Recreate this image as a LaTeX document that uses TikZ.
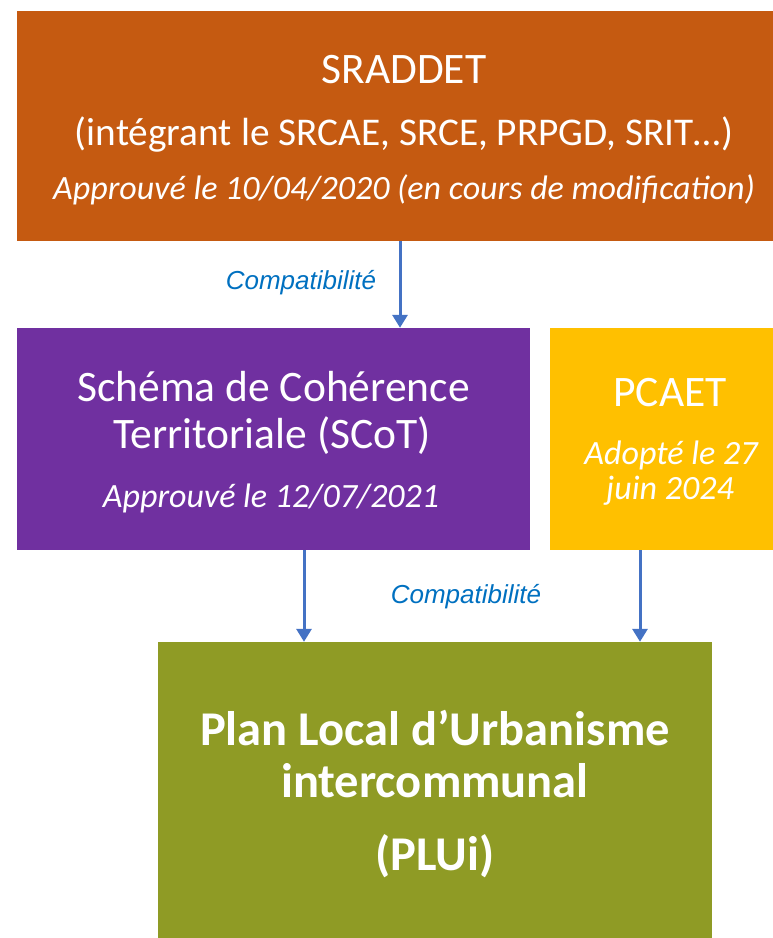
\documentclass[tikz,border=0pt]{standalone}
\usepackage{fontspec}
\setmainfont{Carlito}
\newfontfamily\labelfont{Liberation Sans}
\usetikzlibrary{arrows.meta}
\definecolor{sraddetorange}{HTML}{C55A11}
\definecolor{scotpurple}{HTML}{7030A0}
\definecolor{pcaetyellow}{HTML}{FFC000}
\definecolor{pluigreen}{HTML}{8F9B25}
\definecolor{arrowblue}{HTML}{4472C4}
\definecolor{labelblue}{HTML}{0070C0}
\begin{document}
\begin{tikzpicture}[x=1pt,y=-1pt,
    box/.style={rectangle,inner sep=0pt,draw=none},
    txt/.style={text=white,anchor=base,inner sep=0pt},
    link/.style={draw=arrowblue,line width=3pt,-{Triangle[width=15pt,length=13pt]}},
    linklabel/.style={text=labelblue,anchor=base,inner sep=0pt,
      font=\labelfont\itshape\fontsize{26}{30}\selectfont}]
  \useasboundingbox (0,0) rectangle (773,938);
  % boxes
  \node[box,fill=sraddetorange,minimum width=774pt,minimum height=230pt] (sraddet) at (404,126) {};
  \node[box,fill=scotpurple,minimum width=513pt,minimum height=222pt] (scot) at (273.5,439) {};
  \node[box,fill=pcaetyellow,minimum width=241pt,minimum height=222pt] (pcaet) at (670.5,439) {};
  \node[box,fill=pluigreen,minimum width=554pt,minimum height=318pt] (plui) at (435,801) {};
  % SRADDET texts
  \node[txt,font=\fontsize{43.5}{50}\selectfont] (sraddet-title) at (404,83) {SRADDET};
  \node[txt,font=\fontsize{39.3}{45}\selectfont] (sraddet-sub) at (404,145) {(intégrant le SRCAE, SRCE, PRPGD, SRIT…)};
  \node[txt,font=\itshape\fontsize{34}{40}\selectfont] (sraddet-date) at (404,199) {Approuvé le 10/04/2020 (en cours de modification)};
  % SCoT texts
  \node[txt,font=\fontsize{43.5}{50}\selectfont] (scot-title) at (273.5,401) {Schéma de Cohérence};
  \node[txt,font=\fontsize{43.5}{50}\selectfont] (scot-sub) at (272,448) {Territoriale (SCoT)};
  \node[txt,font=\itshape\fontsize{34}{40}\selectfont] (scot-date) at (271,507) {Approuvé le 12/07/2021};
  % PCAET texts
  \node[txt,font=\fontsize{43.5}{50}\selectfont] (pcaet-title) at (670,406) {PCAET};
  \node[txt,font=\itshape\fontsize{34}{40}\selectfont] (pcaet-date) at (671,464) {Adopté le 27};
  \node[txt,font=\itshape\fontsize{34}{40}\selectfont] (pcaet-year) at (670,499) {juin 2024};
  % PLUi texts
  \node[txt,font=\bfseries\fontsize{48.5}{55}\selectfont] (plui-title) at (435,745) {Plan Local d’Urbanisme};
  \node[txt,font=\bfseries\fontsize{48.5}{55}\selectfont] (plui-sub) at (435,797) {intercommunal};
  \node[txt,font=\bfseries\fontsize{48.5}{55}\selectfont] (plui-abbr) at (435,870) {(PLUi)};
  % compatibility links
  \draw[link] ([xshift=-4pt]sraddet.south) -- ([xshift=-4pt]sraddet.south |- scot.north);
  \draw[link] ([xshift=30.5pt]scot.south) -- ([xshift=30.5pt]scot.south |- plui.north);
  \draw[link] ([xshift=-30.5pt]pcaet.south) -- ([xshift=-30.5pt]pcaet.south |- plui.north);
  \node[linklabel] (compat-top) at (301,289) {Compatibilité};
  \node[linklabel] (compat-bottom) at (466,603) {Compatibilité};
\end{tikzpicture}
\end{document}
